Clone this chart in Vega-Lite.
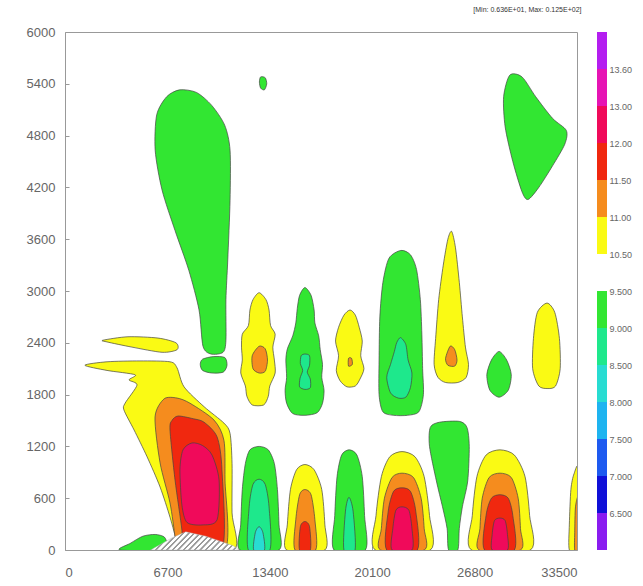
{
"$schema": "https://vega.github.io/schema/vega-lite/v6.json",
"background": "white",
"padding": {"left": 5, "top": 5, "right": 2, "bottom": 5},
"config": {"font": "Liberation Sans", "concat": {"spacing": 15}, "view": {"stroke": null}},
"datasets": {
"polys": [
{"id":"A","lv":"9.0-9.5","z":1},{"id":"B","lv":"9.0-9.5","z":1},{"id":"C","lv":"9.0-9.5","z":1},{"id":"D","lv":"9.0-9.5","z":1},
{"id":"E","lv":"10.5-11.0","z":1},{"id":"F","lv":"10.5-11.0","z":1},{"id":"G","lv":"10.5-11.0","z":1},{"id":"H","lv":"9.0-9.5","z":1},
{"id":"I","lv":"10.5-11.0","z":1},{"id":"J","lv":"9.0-9.5","z":1},{"id":"K","lv":"10.5-11.0","z":1},{"id":"L","lv":"9.0-9.5","z":1},
{"id":"M","lv":"10.5-11.0","z":1},{"id":"N","lv":"9.0-9.5","z":1},{"id":"O","lv":"10.5-11.0","z":1},{"id":"P","lv":"9.0-9.5","z":1},
{"id":"Q","lv":"10.5-11.0","z":1},{"id":"R","lv":"9.0-9.5","z":1},{"id":"S","lv":"10.5-11.0","z":1},{"id":"T","lv":"10.5-11.0","z":1},
{"id":"U","lv":"9.0-9.5","z":1},
{"id":"F2","lv":"11.0-11.5","z":2},{"id":"G2","lv":"11.0-11.5","z":2},{"id":"H2","lv":"8.5-9.0","z":2},{"id":"I2","lv":"11.0-11.5","z":2},
{"id":"J2","lv":"8.5-9.0","z":2},{"id":"K2","lv":"11.0-11.5","z":2},{"id":"N2","lv":"8.5-9.0","z":2},{"id":"O2","lv":"11.0-11.5","z":2},
{"id":"P2","lv":"8.5-9.0","z":2},{"id":"Q2","lv":"11.0-11.5","z":2},{"id":"S2","lv":"11.0-11.5","z":2},{"id":"T2","lv":"11.0-11.5","z":2},
{"id":"F3","lv":"11.5-12.0","z":3},{"id":"N3","lv":"8.0-8.5","z":3},{"id":"O3","lv":"11.5-12.0","z":3},{"id":"Q3","lv":"11.5-12.0","z":3},{"id":"S3","lv":"11.5-12.0","z":3},
{"id":"F4","lv":"12.0-13.0","z":4},{"id":"Q4","lv":"12.0-13.0","z":4},{"id":"S4","lv":"12.0-13.0","z":4},
{"id":"W","lv":"terrain","z":5}
],
"pts": [
{"id":"A","x":7500,"y":5330},{"id":"A","x":8600,"y":5300},{"id":"A","x":9600,"y":5150},{"id":"A","x":10450,"y":4920},{"id":"A","x":10800,"y":4630},{"id":"A","x":10800,"y":4050},{"id":"A","x":10650,"y":3360},{"id":"A","x":10530,"y":2900},{"id":"A","x":10530,"y":2430},{"id":"A","x":10340,"y":2290},{"id":"A","x":9550,"y":2270},{"id":"A","x":9030,"y":2360},{"id":"A","x":8770,"y":2780},{"id":"A","x":8100,"y":3240},{"id":"A","x":7200,"y":3700},{"id":"A","x":6350,"y":4170},{"id":"A","x":5900,"y":4630},{"id":"A","x":6000,"y":5040},{"id":"A","x":6650,"y":5250},
{"id":"B","x":9000,"y":2210},{"id":"B","x":9700,"y":2240},{"id":"B","x":10450,"y":2230},{"id":"B","x":10600,"y":2140},{"id":"B","x":10350,"y":2060},{"id":"B","x":9600,"y":2050},{"id":"B","x":9000,"y":2080},{"id":"B","x":8850,"y":2150},
{"id":"C","x":12800,"y":5480},{"id":"C","x":13100,"y":5470},{"id":"C","x":13200,"y":5400},{"id":"C","x":13050,"y":5330},{"id":"C","x":12800,"y":5350},{"id":"C","x":12720,"y":5420},
{"id":"D","x":29100,"y":5500},{"id":"D","x":29900,"y":5480},{"id":"D","x":30800,"y":5250},{"id":"D","x":31900,"y":5000},{"id":"D","x":32800,"y":4860},{"id":"D","x":32700,"y":4700},{"id":"D","x":31900,"y":4450},{"id":"D","x":31000,"y":4200},{"id":"D","x":30300,"y":4060},{"id":"D","x":29900,"y":4150},{"id":"D","x":29300,"y":4500},{"id":"D","x":28800,"y":4900},{"id":"D","x":28700,"y":5250},
{"id":"E","x":2490,"y":2430},{"id":"E","x":4120,"y":2470},{"id":"E","x":6080,"y":2455},{"id":"E","x":7260,"y":2400},{"id":"E","x":7330,"y":2320},{"id":"E","x":6350,"y":2290},{"id":"E","x":4380,"y":2350},{"id":"E","x":2750,"y":2410},
{"id":"F","x":1300,"y":2140},{"id":"F","x":2750,"y":2180},{"id":"F","x":4900,"y":2190},{"id":"F","x":6870,"y":2180},{"id":"F","x":7330,"y":2110},{"id":"F","x":7790,"y":1890},{"id":"F","x":9100,"y":1660},{"id":"F","x":10400,"y":1470},{"id":"F","x":10800,"y":1350},{"id":"F","x":10930,"y":1000},{"id":"F","x":10930,"y":430},{"id":"F","x":11060,"y":0},{"id":"F","x":7400,"y":0},{"id":"F","x":7330,"y":80},{"id":"F","x":6870,"y":380},{"id":"F","x":6220,"y":730},{"id":"F","x":5370,"y":1080},{"id":"F","x":4520,"y":1390},{"id":"F","x":3860,"y":1620},{"id":"F","x":3930,"y":1700},{"id":"F","x":4710,"y":1910},{"id":"F","x":4190,"y":1970},{"id":"F","x":4580,"y":2030},{"id":"F","x":2750,"y":2080},
{"id":"F2","x":6480,"y":1750},{"id":"F2","x":7330,"y":1760},{"id":"F2","x":8180,"y":1700},{"id":"F2","x":9750,"y":1505},{"id":"F2","x":10400,"y":1270},{"id":"F2","x":10470,"y":810},{"id":"F2","x":10470,"y":0},{"id":"F2","x":7300,"y":0},{"id":"F2","x":7200,"y":150},{"id":"F2","x":6870,"y":545},{"id":"F2","x":6220,"y":1010},{"id":"F2","x":5890,"y":1540},
{"id":"F3","x":7000,"y":1500},{"id":"F3","x":7400,"y":1552},{"id":"F3","x":8400,"y":1520},{"id":"F3","x":9100,"y":1480},{"id":"F3","x":9950,"y":1310},{"id":"F3","x":10270,"y":930},{"id":"F3","x":10270,"y":0},{"id":"F3","x":7700,"y":0},{"id":"F3","x":7650,"y":230},{"id":"F3","x":7200,"y":810},{"id":"F3","x":6870,"y":1390},
{"id":"F4","x":8310,"y":1240},{"id":"F4","x":9000,"y":1210},{"id":"F4","x":9620,"y":1100},{"id":"F4","x":10080,"y":810},{"id":"F4","x":9950,"y":350},{"id":"F4","x":8960,"y":290},{"id":"F4","x":7980,"y":320},{"id":"F4","x":7650,"y":520},{"id":"F4","x":7520,"y":930},{"id":"F4","x":7720,"y":1160},
{"id":"G","x":12700,"y":2980},{"id":"G","x":13150,"y":2900},{"id":"G","x":13350,"y":2780},{"id":"G","x":13450,"y":2600},{"id":"G","x":13750,"y":2500},{"id":"G","x":13600,"y":2350},{"id":"G","x":13700,"y":2200},{"id":"G","x":13750,"y":2050},{"id":"G","x":13400,"y":1900},{"id":"G","x":13300,"y":1780},{"id":"G","x":13000,"y":1680},{"id":"G","x":12250,"y":1680},{"id":"G","x":11900,"y":1780},{"id":"G","x":11800,"y":1900},{"id":"G","x":11500,"y":2050},{"id":"G","x":11600,"y":2200},{"id":"G","x":11550,"y":2350},{"id":"G","x":11600,"y":2500},{"id":"G","x":12000,"y":2600},{"id":"G","x":12100,"y":2780},{"id":"G","x":12300,"y":2900},
{"id":"G2","x":12700,"y":2360},{"id":"G2","x":13100,"y":2330},{"id":"G2","x":13250,"y":2200},{"id":"G2","x":13100,"y":2070},{"id":"G2","x":12700,"y":2050},{"id":"G2","x":12300,"y":2100},{"id":"G2","x":12250,"y":2250},
{"id":"H","x":15700,"y":3040},{"id":"H","x":16100,"y":2950},{"id":"H","x":16300,"y":2780},{"id":"H","x":16350,"y":2630},{"id":"H","x":16600,"y":2480},{"id":"H","x":16700,"y":2320},{"id":"H","x":16850,"y":2150},{"id":"H","x":16800,"y":2000},{"id":"H","x":16950,"y":1850},{"id":"H","x":16850,"y":1700},{"id":"H","x":16500,"y":1590},{"id":"H","x":15700,"y":1560},{"id":"H","x":14900,"y":1580},{"id":"H","x":14500,"y":1700},{"id":"H","x":14400,"y":1850},{"id":"H","x":14500,"y":2000},{"id":"H","x":14450,"y":2200},{"id":"H","x":14550,"y":2330},{"id":"H","x":14900,"y":2480},{"id":"H","x":15100,"y":2630},{"id":"H","x":15200,"y":2800},{"id":"H","x":15350,"y":2950},
{"id":"H2","x":15700,"y":2270},{"id":"H2","x":16000,"y":2250},{"id":"H2","x":16000,"y":2140},{"id":"H2","x":15850,"y":2060},{"id":"H2","x":16050,"y":1980},{"id":"H2","x":16050,"y":1880},{"id":"H2","x":15700,"y":1860},{"id":"H2","x":15350,"y":1890},{"id":"H2","x":15380,"y":1990},{"id":"H2","x":15550,"y":2080},{"id":"H2","x":15400,"y":2160},{"id":"H2","x":15450,"y":2250},
{"id":"I","x":18650,"y":2780},{"id":"I","x":19000,"y":2720},{"id":"I","x":19250,"y":2580},{"id":"I","x":19450,"y":2420},{"id":"I","x":19350,"y":2250},{"id":"I","x":19560,"y":2100},{"id":"I","x":19300,"y":1980},{"id":"I","x":19000,"y":1900},{"id":"I","x":18450,"y":1890},{"id":"I","x":18000,"y":1960},{"id":"I","x":17750,"y":2080},{"id":"I","x":17900,"y":2250},{"id":"I","x":17700,"y":2420},{"id":"I","x":17900,"y":2580},{"id":"I","x":18250,"y":2720},
{"id":"I2","x":18550,"y":2220},{"id":"I2","x":18750,"y":2220},{"id":"I2","x":18800,"y":2150},{"id":"I2","x":18550,"y":2130},
{"id":"J","x":21980,"y":3470},{"id":"J","x":22600,"y":3420},{"id":"J","x":23000,"y":3250},{"id":"J","x":23250,"y":2900},{"id":"J","x":23350,"y":2500},{"id":"J","x":23400,"y":2100},{"id":"J","x":23450,"y":1800},{"id":"J","x":23150,"y":1600},{"id":"J","x":22400,"y":1560},{"id":"J","x":21500,"y":1560},{"id":"J","x":20800,"y":1600},{"id":"J","x":20550,"y":1800},{"id":"J","x":20550,"y":2200},{"id":"J","x":20600,"y":2700},{"id":"J","x":20800,"y":3100},{"id":"J","x":21200,"y":3380},
{"id":"J2","x":21950,"y":2460},{"id":"J2","x":22300,"y":2380},{"id":"J2","x":22450,"y":2200},{"id":"J2","x":22700,"y":2050},{"id":"J2","x":22600,"y":1880},{"id":"J2","x":22300,"y":1770},{"id":"J2","x":21800,"y":1760},{"id":"J2","x":21300,"y":1820},{"id":"J2","x":21050,"y":2000},{"id":"J2","x":21300,"y":2150},{"id":"J2","x":21550,"y":2300},{"id":"J2","x":21700,"y":2400},
{"id":"K","x":25300,"y":3690},{"id":"K","x":25550,"y":3500},{"id":"K","x":25800,"y":3100},{"id":"K","x":26000,"y":2700},{"id":"K","x":26200,"y":2350},{"id":"K","x":26400,"y":2150},{"id":"K","x":26250,"y":2000},{"id":"K","x":25700,"y":1940},{"id":"K","x":24900,"y":1940},{"id":"K","x":24400,"y":2000},{"id":"K","x":24150,"y":2150},{"id":"K","x":24250,"y":2450},{"id":"K","x":24450,"y":2900},{"id":"K","x":24750,"y":3300},{"id":"K","x":25050,"y":3600},
{"id":"K2","x":25200,"y":2360},{"id":"K2","x":25500,"y":2320},{"id":"K2","x":25650,"y":2200},{"id":"K2","x":25500,"y":2130},{"id":"K2","x":25050,"y":2140},{"id":"K2","x":24900,"y":2220},
{"id":"L","x":28400,"y":2300},{"id":"L","x":28900,"y":2200},{"id":"L","x":29200,"y":2030},{"id":"L","x":29000,"y":1850},{"id":"L","x":28400,"y":1770},{"id":"L","x":27800,"y":1850},{"id":"L","x":27600,"y":2030},{"id":"L","x":27900,"y":2200},
{"id":"M","x":31540,"y":2860},{"id":"M","x":32050,"y":2750},{"id":"M","x":32350,"y":2450},{"id":"M","x":32400,"y":2100},{"id":"M","x":32100,"y":1900},{"id":"M","x":31600,"y":1870},{"id":"M","x":31000,"y":1900},{"id":"M","x":30600,"y":2100},{"id":"M","x":30650,"y":2450},{"id":"M","x":30900,"y":2750},
{"id":"N","x":12700,"y":1200},{"id":"N","x":13300,"y":1160},{"id":"N","x":13700,"y":1000},{"id":"N","x":13900,"y":700},{"id":"N","x":14000,"y":300},{"id":"N","x":14000,"y":0},{"id":"N","x":11450,"y":0},{"id":"N","x":11500,"y":300},{"id":"N","x":11600,"y":700},{"id":"N","x":11800,"y":1000},{"id":"N","x":12100,"y":1160},
{"id":"N2","x":12700,"y":820},{"id":"N2","x":13100,"y":760},{"id":"N2","x":13350,"y":500},{"id":"N2","x":13400,"y":0},{"id":"N2","x":12000,"y":0},{"id":"N2","x":12050,"y":500},{"id":"N2","x":12300,"y":760},
{"id":"N3","x":12700,"y":270},{"id":"N3","x":12950,"y":200},{"id":"N3","x":13050,"y":0},{"id":"N3","x":12350,"y":0},{"id":"N3","x":12450,"y":200},
{"id":"O","x":15700,"y":990},{"id":"O","x":16300,"y":930},{"id":"O","x":16800,"y":700},{"id":"O","x":17000,"y":300},{"id":"O","x":17000,"y":0},{"id":"O","x":14500,"y":0},{"id":"O","x":14550,"y":300},{"id":"O","x":14750,"y":700},{"id":"O","x":15150,"y":930},
{"id":"O2","x":15700,"y":700},{"id":"O2","x":16100,"y":640},{"id":"O2","x":16350,"y":350},{"id":"O2","x":16400,"y":0},{"id":"O2","x":15050,"y":0},{"id":"O2","x":15100,"y":350},{"id":"O2","x":15350,"y":640},
{"id":"O3","x":15700,"y":330},{"id":"O3","x":16000,"y":270},{"id":"O3","x":16050,"y":0},{"id":"O3","x":15350,"y":0},{"id":"O3","x":15400,"y":270},
{"id":"P","x":18600,"y":1160},{"id":"P","x":19100,"y":1100},{"id":"P","x":19450,"y":850},{"id":"P","x":19600,"y":400},{"id":"P","x":19650,"y":0},{"id":"P","x":17600,"y":0},{"id":"P","x":17650,"y":400},{"id":"P","x":17800,"y":850},{"id":"P","x":18100,"y":1100},
{"id":"P2","x":18580,"y":610},{"id":"P2","x":18850,"y":450},{"id":"P2","x":18980,"y":0},{"id":"P2","x":18250,"y":0},{"id":"P2","x":18350,"y":450},
{"id":"Q","x":22050,"y":1140},{"id":"Q","x":22900,"y":1080},{"id":"Q","x":23500,"y":850},{"id":"Q","x":23850,"y":400},{"id":"Q","x":23900,"y":0},{"id":"Q","x":20300,"y":0},{"id":"Q","x":20350,"y":400},{"id":"Q","x":20700,"y":850},{"id":"Q","x":21250,"y":1080},
{"id":"Q2","x":22050,"y":890},{"id":"Q2","x":22800,"y":840},{"id":"Q2","x":23300,"y":600},{"id":"Q2","x":23500,"y":250},{"id":"Q2","x":23500,"y":0},{"id":"Q2","x":20650,"y":0},{"id":"Q2","x":20700,"y":250},{"id":"Q2","x":20900,"y":600},{"id":"Q2","x":21400,"y":840},
{"id":"Q3","x":22050,"y":720},{"id":"Q3","x":22600,"y":680},{"id":"Q3","x":22950,"y":450},{"id":"Q3","x":23050,"y":0},{"id":"Q3","x":21050,"y":0},{"id":"Q3","x":21150,"y":450},{"id":"Q3","x":21500,"y":680},
{"id":"Q4","x":22050,"y":500},{"id":"Q4","x":22500,"y":460},{"id":"Q4","x":22700,"y":250},{"id":"Q4","x":22700,"y":0},{"id":"Q4","x":21400,"y":0},{"id":"Q4","x":21450,"y":250},{"id":"Q4","x":21650,"y":460},
{"id":"R","x":24500,"y":1480},{"id":"R","x":25800,"y":1490},{"id":"R","x":26300,"y":1420},{"id":"R","x":26450,"y":1200},{"id":"R","x":26350,"y":800},{"id":"R","x":26000,"y":500},{"id":"R","x":25800,"y":250},{"id":"R","x":25700,"y":0},{"id":"R","x":25100,"y":0},{"id":"R","x":25000,"y":250},{"id":"R","x":24700,"y":500},{"id":"R","x":24300,"y":800},{"id":"R","x":23850,"y":1200},{"id":"R","x":23900,"y":1420},
{"id":"S","x":28460,"y":1160},{"id":"S","x":29400,"y":1100},{"id":"S","x":30100,"y":850},{"id":"S","x":30400,"y":400},{"id":"S","x":30450,"y":0},{"id":"S","x":26600,"y":0},{"id":"S","x":26650,"y":400},{"id":"S","x":26950,"y":850},{"id":"S","x":27550,"y":1100},
{"id":"S2","x":28460,"y":890},{"id":"S2","x":29200,"y":840},{"id":"S2","x":29650,"y":600},{"id":"S2","x":29800,"y":250},{"id":"S2","x":29800,"y":0},{"id":"S2","x":27100,"y":0},{"id":"S2","x":27150,"y":250},{"id":"S2","x":27300,"y":600},{"id":"S2","x":27750,"y":840},
{"id":"S3","x":28460,"y":640},{"id":"S3","x":29000,"y":600},{"id":"S3","x":29300,"y":400},{"id":"S3","x":29400,"y":0},{"id":"S3","x":27450,"y":0},{"id":"S3","x":27550,"y":400},{"id":"S3","x":27900,"y":600},
{"id":"S4","x":28460,"y":370},{"id":"S4","x":28800,"y":340},{"id":"S4","x":28950,"y":180},{"id":"S4","x":28950,"y":0},{"id":"S4","x":27950,"y":0},{"id":"S4","x":27950,"y":180},{"id":"S4","x":28100,"y":340},
{"id":"T","x":33600,"y":930},{"id":"T","x":33300,"y":880},{"id":"T","x":33100,"y":700},{"id":"T","x":33000,"y":300},{"id":"T","x":33000,"y":0},{"id":"T","x":33600,"y":0},
{"id":"T2","x":33600,"y":600},{"id":"T2","x":33400,"y":500},{"id":"T2","x":33350,"y":200},{"id":"T2","x":33350,"y":0},{"id":"T2","x":33600,"y":0},
{"id":"U","x":3600,"y":0},{"id":"U","x":4300,"y":80},{"id":"U","x":5100,"y":160},{"id":"U","x":5900,"y":180},{"id":"U","x":6500,"y":150},{"id":"U","x":6700,"y":60},{"id":"U","x":6600,"y":0},
{"id":"W","x":5600,"y":0},{"id":"W","x":7000,"y":140},{"id":"W","x":7900,"y":210},{"id":"W","x":9200,"y":160},{"id":"W","x":11000,"y":50},{"id":"W","x":11400,"y":0}
],
"bar": [
{"lo":0,"hi":1,"lv":"<6.5"},{"lo":1,"hi":2,"lv":"6.5-7.0"},{"lo":2,"hi":3,"lv":"7.0-7.5"},{"lo":3,"hi":4,"lv":"7.5-8.0"},{"lo":4,"hi":5,"lv":"8.0-8.5"},{"lo":5,"hi":6,"lv":"8.5-9.0"},{"lo":6,"hi":7,"lv":"9.0-9.5"},
{"lo":8,"hi":9,"lv":"10.5-11.0"},{"lo":9,"hi":10,"lv":"11.0-11.5"},{"lo":10,"hi":11,"lv":"11.5-12.0"},{"lo":11,"hi":12,"lv":"12.0-13.0"},{"lo":12,"hi":13,"lv":"13.0-13.6"},{"lo":13,"hi":14,"lv":">13.6"}
]
},
"hconcat": [
{
"width": 512, "height": 518,
"view": {"stroke": "#999999", "strokeWidth": 1},
"title": {"text": "[Min: 0.636E+01, Max: 0.125E+02]", "anchor": "end", "fontSize": 7, "fontWeight": "normal", "color": "#333333", "offset": 13, "dx": 4},
"data": {"name": "pts"},
"transform": [{"lookup": "id", "from": {"data": {"name": "polys"}, "key": "id", "fields": ["lv", "z"]}}],
"encoding": {
"x": {"field": "x", "type": "quantitative", "scale": {"domain": [0, 33500], "nice": false, "zero": false},
 "axis": {"title": null, "format": "d", "values": [0, 6700, 13400, 20100, 26800, 33500], "grid": false, "domain": false, "tickSize": -4, "tickColor": "#999999", "labelColor": "#666666", "labelFontSize": 13, "labelPadding": 20}},
"y": {"field": "y", "type": "quantitative", "scale": {"domain": [0, 6000], "nice": false, "zero": false},
 "axis": {"title": null, "format": "d", "values": [0, 600, 1200, 1800, 2400, 3000, 3600, 4200, 4800, 5400, 6000], "grid": false, "domain": false, "tickSize": -4, "tickColor": "#999999", "labelColor": "#666666", "labelFontSize": 13, "labelPadding": 14, "minExtent": 59}},
"fill": {"field": "lv", "type": "nominal", "legend": null,
 "scale": {"domain": ["<6.5","6.5-7.0","7.0-7.5","7.5-8.0","8.0-8.5","8.5-9.0","9.0-9.5","10.5-11.0","11.0-11.5","11.5-12.0","12.0-13.0","13.0-13.6",">13.6","terrain"],
  "range": ["#8a1cf0","#1010d8","#1e5af0","#1eb4f0","#28dcd2","#1ee88c","#32e632","#fafa14","#f58c1e","#f0280f","#f00a5a","#e614b4","#b41ef0","#e4e4e4"]}},
"detail": {"field": "id"},
"order": {"value": null}
},
"layer": [
{"transform": [{"filter": "datum.z == 1"}], "mark": {"type": "line", "interpolate": "cardinal-closed", "tension": 0.2, "stroke": "#444444", "strokeWidth": 0.7, "clip": true}},
{"transform": [{"filter": "datum.z == 2"}], "mark": {"type": "line", "interpolate": "cardinal-closed", "tension": 0.2, "stroke": "#444444", "strokeWidth": 0.7, "clip": true}},
{"transform": [{"filter": "datum.z == 3"}], "mark": {"type": "line", "interpolate": "cardinal-closed", "tension": 0.2, "stroke": "#444444", "strokeWidth": 0.7, "clip": true}},
{"transform": [{"filter": "datum.z == 4"}], "mark": {"type": "line", "interpolate": "cardinal-closed", "tension": 0.2, "stroke": "#444444", "strokeWidth": 0.7, "clip": true}},
{"transform": [{"filter": "datum.z == 5"}], "mark": {"type": "line", "interpolate": "linear-closed", "stroke": "#bbbbbb", "strokeWidth": 0.5, "clip": true},
 "encoding": {"fill": {"value": {"gradient": "linear", "x1": 0, "y1": 0, "x2": 1.2, "y2": 0.24, "stops": [
 {"offset":0.00,"color":"#9a9a9a"},{"offset":0.015,"color":"#9a9a9a"},{"offset":0.02,"color":"#ffffff"},{"offset":0.045,"color":"#ffffff"},
 {"offset":0.05,"color":"#9a9a9a"},{"offset":0.065,"color":"#9a9a9a"},{"offset":0.07,"color":"#ffffff"},{"offset":0.095,"color":"#ffffff"},
 {"offset":0.10,"color":"#9a9a9a"},{"offset":0.115,"color":"#9a9a9a"},{"offset":0.12,"color":"#ffffff"},{"offset":0.145,"color":"#ffffff"},
 {"offset":0.15,"color":"#9a9a9a"},{"offset":0.165,"color":"#9a9a9a"},{"offset":0.17,"color":"#ffffff"},{"offset":0.195,"color":"#ffffff"},
 {"offset":0.20,"color":"#9a9a9a"},{"offset":0.215,"color":"#9a9a9a"},{"offset":0.22,"color":"#ffffff"},{"offset":0.245,"color":"#ffffff"},
 {"offset":0.25,"color":"#9a9a9a"},{"offset":0.265,"color":"#9a9a9a"},{"offset":0.27,"color":"#ffffff"},{"offset":0.295,"color":"#ffffff"},
 {"offset":0.30,"color":"#9a9a9a"},{"offset":0.315,"color":"#9a9a9a"},{"offset":0.32,"color":"#ffffff"},{"offset":0.345,"color":"#ffffff"},
 {"offset":0.35,"color":"#9a9a9a"},{"offset":0.365,"color":"#9a9a9a"},{"offset":0.37,"color":"#ffffff"},{"offset":0.395,"color":"#ffffff"},
 {"offset":0.40,"color":"#9a9a9a"},{"offset":0.415,"color":"#9a9a9a"},{"offset":0.42,"color":"#ffffff"},{"offset":0.445,"color":"#ffffff"},
 {"offset":0.45,"color":"#9a9a9a"},{"offset":0.465,"color":"#9a9a9a"},{"offset":0.47,"color":"#ffffff"},{"offset":0.495,"color":"#ffffff"},
 {"offset":0.50,"color":"#9a9a9a"},{"offset":0.515,"color":"#9a9a9a"},{"offset":0.52,"color":"#ffffff"},{"offset":0.545,"color":"#ffffff"},
 {"offset":0.55,"color":"#9a9a9a"},{"offset":0.565,"color":"#9a9a9a"},{"offset":0.57,"color":"#ffffff"},{"offset":0.595,"color":"#ffffff"},
 {"offset":0.60,"color":"#9a9a9a"},{"offset":0.615,"color":"#9a9a9a"},{"offset":0.62,"color":"#ffffff"},{"offset":0.645,"color":"#ffffff"},
 {"offset":0.65,"color":"#9a9a9a"},{"offset":0.665,"color":"#9a9a9a"},{"offset":0.67,"color":"#ffffff"},{"offset":0.695,"color":"#ffffff"},
 {"offset":0.70,"color":"#9a9a9a"},{"offset":0.715,"color":"#9a9a9a"},{"offset":0.72,"color":"#ffffff"},{"offset":0.745,"color":"#ffffff"},
 {"offset":0.75,"color":"#9a9a9a"},{"offset":0.765,"color":"#9a9a9a"},{"offset":0.77,"color":"#ffffff"},{"offset":0.795,"color":"#ffffff"},
 {"offset":0.80,"color":"#9a9a9a"},{"offset":0.815,"color":"#9a9a9a"},{"offset":0.82,"color":"#ffffff"},{"offset":0.845,"color":"#ffffff"},
 {"offset":0.85,"color":"#9a9a9a"},{"offset":0.865,"color":"#9a9a9a"},{"offset":0.87,"color":"#ffffff"},{"offset":0.895,"color":"#ffffff"},
 {"offset":0.90,"color":"#9a9a9a"},{"offset":0.915,"color":"#9a9a9a"},{"offset":0.92,"color":"#ffffff"},{"offset":0.945,"color":"#ffffff"},
 {"offset":0.95,"color":"#9a9a9a"},{"offset":0.965,"color":"#9a9a9a"},{"offset":0.97,"color":"#ffffff"},{"offset":1.0,"color":"#ffffff"}
 ]}}}}
]
},
{
"width": 10, "height": 518,
"data": {"name": "bar"},
"mark": {"type": "rect"},
"encoding": {
"y": {"field": "lo", "type": "quantitative", "scale": {"domain": [0, 14], "nice": false, "zero": false},
 "axis": {"orient": "right", "title": null, "values": [1,2,3,4,5,6,7,8,9,10,11,12,13], "labelExpr": "['','6.500','7.000','7.500','8.000','8.500','9.000','9.500','10.50','11.00','11.50','12.00','13.00','13.60'][datum.value]", "domain": false, "ticks": false, "grid": false, "labelFontSize": 9, "labelColor": "#666666", "labelPadding": 2}},
"y2": {"field": "hi"},
"fill": {"field": "lv", "type": "nominal", "legend": null,
 "scale": {"domain": ["<6.5","6.5-7.0","7.0-7.5","7.5-8.0","8.0-8.5","8.5-9.0","9.0-9.5","10.5-11.0","11.0-11.5","11.5-12.0","12.0-13.0","13.0-13.6",">13.6","terrain"],
  "range": ["#8a1cf0","#1010d8","#1e5af0","#1eb4f0","#28dcd2","#1ee88c","#32e632","#fafa14","#f58c1e","#f0280f","#f00a5a","#e614b4","#b41ef0","#e4e4e4"]}}
}
}
]
}
